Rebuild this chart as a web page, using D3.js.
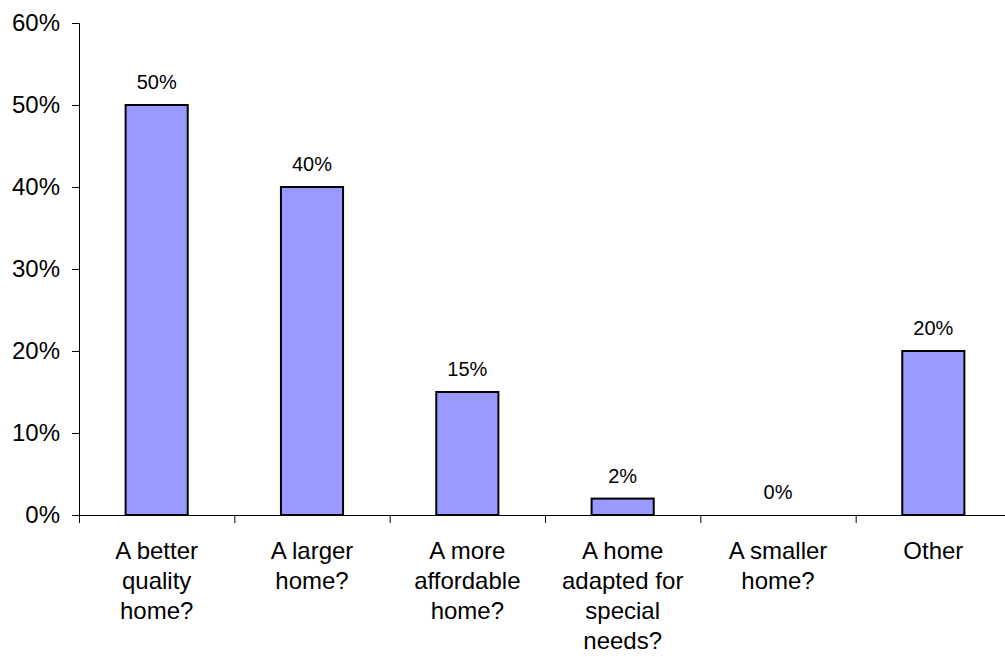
<!DOCTYPE html>
<html>
<head>
<meta charset="utf-8">
<script src="https://cdn.jsdelivr.net/npm/d3@7"></script>
<style>
  html, body { margin: 0; padding: 0; background: #fff; }
  svg { display: block; font-family: "Liberation Sans", Arial, sans-serif; }
</style>
</head>
<body>
<svg id="chart" width="1005" height="657"></svg>
<script>
// Survey answers: what kind of home are you looking for?
const categories = [
  ["A better", "quality", "home?"],
  ["A larger", "home?"],
  ["A more", "affordable", "home?"],
  ["A home", "adapted for", "special", "needs?"],
  ["A smaller", "home?"],
  ["Other"]
];
const values = [0.50, 0.40, 0.15, 0.02, 0.00, 0.20];
const yTicks = [0, 0.1, 0.2, 0.3, 0.4, 0.5, 0.6];

const svg = d3.select("#chart");
const plotLeft = 79, plotRight = 1011, plotTop = 23, plotBottom = 515;

const keys = categories.map((c, i) => i);
const x = d3.scaleBand().domain(keys).range([plotLeft, plotRight])
  .paddingInner(0.6).paddingOuter(0.3);
const xStep = d3.scaleBand().domain(keys).range([plotLeft, plotRight]);
const y = d3.scaleLinear().domain([0, 0.6]).range([plotBottom, plotTop]);
const fmt = d3.format(".0%");

// Y axis
const yAxis = svg.append("g")
  .attr("transform", `translate(${plotLeft},0)`)
  .call(d3.axisLeft(y).tickValues(yTicks).tickFormat(fmt).tickSize(7).tickPadding(12));
yAxis.select(".domain").attr("stroke", "#000");
yAxis.selectAll(".tick line").attr("stroke", "#000");
yAxis.selectAll(".tick text").attr("font-size", 24).attr("fill", "#000")
  .attr("font-family", "Liberation Sans, Arial, sans-serif");

// X axis line with ticks at category boundaries
svg.append("line")
  .attr("x1", plotLeft).attr("x2", plotRight)
  .attr("y1", plotBottom + 0.5).attr("y2", plotBottom + 0.5)
  .attr("stroke", "#000").attr("stroke-width", 1);
svg.selectAll(".xtick").data(keys.concat([keys.length]))
  .enter().append("line")
  .attr("class", "xtick")
  .attr("x1", d => (d < keys.length ? xStep(d) : plotRight) + 0.5)
  .attr("x2", d => (d < keys.length ? xStep(d) : plotRight) + 0.5)
  .attr("y1", plotBottom).attr("y2", plotBottom + 8)
  .attr("stroke", "#000");

// Bars
svg.selectAll(".bar").data(values)
  .enter().append("rect")
  .attr("class", "bar")
  .attr("x", (d, i) => x(i))
  .attr("width", x.bandwidth())
  .attr("y", d => y(d))
  .attr("height", d => plotBottom - y(d))
  .attr("fill", d => d > 0 ? "#9999FF" : "none")
  .attr("stroke", d => d > 0 ? "#000" : "none")
  .attr("stroke-width", 2);

// Value labels
svg.selectAll(".val").data(values)
  .enter().append("text")
  .attr("class", "val")
  .attr("x", (d, i) => x(i) + x.bandwidth() / 2)
  .attr("y", d => y(d) - 16)
  .attr("text-anchor", "middle")
  .attr("font-size", 20)
  .attr("fill", "#000")
  .text(d => fmt(d));

// Category labels
const cat = svg.selectAll(".cat").data(categories)
  .enter().append("text")
  .attr("class", "cat")
  .attr("text-anchor", "middle")
  .attr("font-size", 24)
  .attr("fill", "#000");
cat.selectAll("tspan").data((d, i) => d.map(t => ({ t, i })))
  .enter().append("tspan")
  .attr("x", d => x(d.i) + x.bandwidth() / 2)
  .attr("y", (d, j) => 559 + j * 30)
  .text(d => d.t);
</script>
</body>
</html>
